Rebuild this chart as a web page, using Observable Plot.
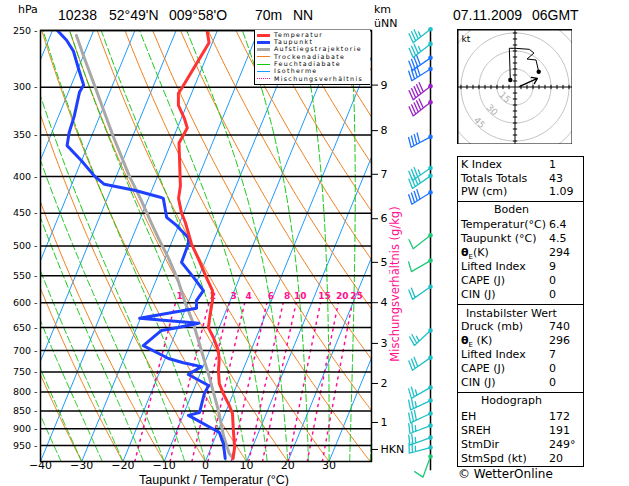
<!DOCTYPE html>
<html><head><meta charset="utf-8">
<script src="https://cdn.jsdelivr.net/npm/d3@7"></script>
<script src="https://cdn.jsdelivr.net/npm/@observablehq/plot@0.6"></script>
<style>
body{margin:0;background:#fff;}
#wrap{position:relative;width:629px;height:486px;overflow:hidden;font-family:"DejaVu Sans",sans-serif;color:#000;}
.abs{position:absolute;white-space:pre;}
.t{font-family:"Liberation Sans",sans-serif;font-size:14px;line-height:16px;}
.row{position:absolute;font-size:11px;line-height:14px;white-space:pre;}
.lg{position:absolute;font-size:6.3px;line-height:6.3px;letter-spacing:1.3px;white-space:pre;}
</style></head><body><div id="wrap"></div>
<script>
// ---------- data ----------
const tempP = [990, 956, 905, 857, 835, 804, 778, 746, 723, 700, 671, 650, 629, 596, 577, 553, 524, 496, 464, 449, 429, 412, 370, 359, 342, 332, 318, 306, 301, 260, 250];
const tempT = [6.4, 5.7, 3.7, 1.8, 0.2, -2.4, -4.4, -5.9, -6.7, -7.9, -10.4, -12.6, -13.3, -14.3, -15.3, -18.1, -21.5, -25.1, -28.6, -30.6, -32.7, -33.5, -37.1, -38.1, -37.6, -39.2, -42.0, -43.2, -42.9, -40.8, -42.5];
const dewP = [990, 944, 911, 862, 854, 804, 783, 756, 737, 728, 718, 689, 656, 650, 641, 631, 611, 596, 577, 553, 527, 496, 487, 468, 456, 429, 427, 418, 410, 399, 380, 362, 347, 329, 305, 298, 282, 267, 258, 250];
const dewT = [4.5, 2.6, 0.5, -8.7, -6.3, -7.0, -6.8, -12.8, -10.4, -15.2, -19.2, -26.6, -23.7, -19.9, -15.4, -30.2, -17.4, -18.2, -17.5, -21.2, -25.6, -25.8, -26.4, -30.5, -33.7, -36.4, -37.5, -44.2, -52.1, -55.4, -60.0, -65.0, -65.8, -66.2, -67.3, -67.0, -70.0, -72.9, -75.6, -78.8];
const parcelP = [990, 975, 920, 849, 763, 700, 641, 596, 559, 519, 487, 464, 432, 399, 351, 298, 271, 254];
const parcelT = [6.4, 5.0, 1.8, -1.9, -7.4, -12.0, -16.7, -21.1, -24.6, -29.3, -33.7, -36.9, -41.5, -46.9, -54.8, -64.4, -70.0, -73.7];

const barbP   = [249, 261, 273, 283, 299, 315, 352, 389, 399, 421, 483, 524, 570, 656, 716, 788, 822, 857, 891, 926, 956, 984];
const barbDir = [232, 232, 235, 238, 232, 232, 242, 235, 235, 238, 232, 240, 235, 227, 235, 240, 245, 245, 249, 250, 255, 200];
const barbSpd = [35, 35, 40, 40, 50, 50, 40, 35, 35, 40, 10, 10, 20, 25, 30, 25, 25, 30, 25, 25, 25, 10];

const hodoU = [-3.9, -4.75, 0, 11.9, 15.8, 10, 17.5, 19.75];
const hodoV = [5.8, 32.25, 32.25, 31.4, 28.3, 23.3, 22.5, 12.75];
const stormDir = 249, stormSpd = 20;
const hodoRings = [15, 30, 45, 60];
const hodoRingLabels = [15, 30, 45];

const isobars = [250, 300, 350, 400, 450, 500, 550, 600, 650, 700, 750, 800, 850, 900, 950];
const xTicks = [-40, -30, -20, -10, 0, 10, 20, 30];
const kmLabels = ["9", "8", "7", "6", "5", "4", "3", "2", "1", "HKN"];
const kmP = [298, 345, 397, 458, 527, 600, 684, 778, 882, 962];
const isoT = d3.range(-120, 41, 10);
const dryT0 = d3.range(-40, 141, 10);
const moistT0 = d3.range(-40, 41, 5);
const mixW = [1, 2, 3, 4, 6, 8, 10, 15, 20, 25];

const tableA = [["K Index", "1"], ["Totals Totals", "43"], ["PW (cm)", "1.09"]];
const tableB = [["Temperatur(°C)", "6.4"], ["Taupunkt (°C)", "4.5"], ["θE(K)", "294"], ["Lifted Index", "9"], ["CAPE (J)", "0"], ["CIN (J)", "0"]];
const tableC = [["Druck (mb)", "740"], ["θE (K)", "296"], ["Lifted Index", "7"], ["CAPE (J)", "0"], ["CIN (J)", "0"]];
const tableD = [["EH", "172"], ["SREH", "191"], ["StmDir", "249°"], ["StmSpd (kt)", "20"]];

const legendItems = [
  ["Temperatur", "#ff3333", 3, null],
  ["Taupunkt", "#2040ff", 3, null],
  ["Aufstiegstrajektorie", "#a8a8a8", 3, null],
  ["Trockenadiabate", "#f08020", 1.5, null],
  ["Feuchtadiabate", "#10c810", 1.5, null],
  ["Isotherme", "#1e9bff", 1.5, null],
  ["Mischungsverhältnis", "#ff1090", 1.5, "dot"]
];

// ---------- thermodynamics for background lines ----------
const K = 30.95; // skew in °C per ln(1000/p)
const skewX = (T, p) => T + K * Math.log(1000 / p);
const P = d3.range(1000, 249, -5);
const isoLines = isoT.flatMap(t => [1000, 250].map(p => ({id: t, x: skewX(t, p), p})));
const dryLines = dryT0.flatMap(t0 => P.map(p => ({id: t0, x: skewX((t0 + 273.15) * Math.pow(p / 1000, 0.2857) - 273.15, p), p})));
function moist(t0) {
  const out = [];
  let T = t0 + 273.15;
  const Rd = 287.04, cp = 1005.7, Lv = 2.501e6, eps = 0.622;
  for (let p = 1000; p >= 249; p -= 2.5) {
    out.push({id: t0, x: skewX(T - 273.15, p), p});
    const es = 6.112 * Math.exp(17.67 * (T - 273.15) / (T - 29.65));
    const rs = eps * es / (p - es);
    const dTdp = (Rd * T + Lv * rs) / (p * (cp + Lv * Lv * rs * eps / (Rd * T * T)));
    T -= dTdp * 2.5;
  }
  return out;
}
const moistLines = moistT0.flatMap(moist);
const tdFromW = (w, p) => { const e = w * p / (622 + w); const a = Math.log(e / 6.112); return 243.5 * a / (17.67 - a); };
const mixLines = mixW.flatMap(w => d3.range(1000, 599, -10).map(p => ({id: w, x: skewX(tdFromW(w, p), p), p})));
const mixLabels = mixW.map(w => ({w, x: skewX(tdFromW(w, 600), 600), p: 588}));

const temp = tempP.map((p, i) => ({p, x: skewX(tempT[i], p)}));
const dew = dewP.map((p, i) => ({p, x: skewX(dewT[i], p)}));
const parcel = parcelP.map((p, i) => ({p, x: skewX(parcelT[i], p)}));
const kmMap = new Map(kmP.map((p, i) => [p, kmLabels[i]]));

const wrap = document.getElementById("wrap");
const place = (el, l, t) => { el.style.position = "absolute"; el.style.left = l + "px"; el.style.top = t + "px"; wrap.appendChild(el); return el; };

// ---------- main skew-T ----------
const main = Plot.plot({
  width: 629, height: 486,
  marginLeft: 40, marginRight: 258, marginTop: 30, marginBottom: 25,
  style: {fontFamily: "DejaVu Sans", fontSize: "10px", background: "transparent", overflow: "visible"},
  x: {domain: [-40, 40.3], axis: null},
  y: {type: "log", domain: [1000, 250], axis: null},
  marks: [
    Plot.line(isoLines, {x: "x", y: "p", z: "id", stroke: "#1e9bff", strokeWidth: 1, clip: true}),
    Plot.line(dryLines, {x: "x", y: "p", z: "id", stroke: "#f08020", strokeWidth: 1, clip: true}),
    Plot.line(moistLines, {x: "x", y: "p", z: "id", stroke: "#10c810", strokeWidth: 1, strokeDasharray: "7,3", clip: true}),
    Plot.line(mixLines, {x: "x", y: "p", z: "id", stroke: "#ff1090", strokeWidth: 1.5, strokeDasharray: "2,5", clip: true}),
    Plot.text(mixLabels, {x: "x", y: "p", text: d => String(d.w), fill: "#ff1090", fontSize: 9, fontWeight: "bold", textAnchor: "middle", dx: 4}),
    Plot.ruleY(isobars, {stroke: "black", strokeWidth: 1.5}),
    Plot.line(parcel, {x: "x", y: "p", stroke: "#a8a8a8", strokeWidth: 3, clip: true}),
    Plot.line(dew, {x: "x", y: "p", stroke: "#2040ff", strokeWidth: 3, strokeLinejoin: "round", clip: true}),
    Plot.line(temp, {x: "x", y: "p", stroke: "#ff3333", strokeWidth: 3, strokeLinejoin: "round", clip: true}),
    Plot.frame({stroke: "black", strokeWidth: 1.5}),
    Plot.axisX(xTicks, {anchor: "bottom", tickSize: 0, tickPadding: 0, fontSize: 11, tickFormat: d => (d < 0 ? "−" : "") + Math.abs(d), label: null}),
    Plot.axisY(isobars, {anchor: "left", tickSize: 0, tickPadding: 3, fontSize: 9.5, tickFormat: d => d + " -", label: null}),
    Plot.axisY(kmP, {anchor: "right", tickSize: 6, tickPadding: 3, fontSize: 11, tickFormat: d => kmMap.get(d), label: null}),
    Plot.text(["Taupunkt / Temperatur (°C)"], {frameAnchor: "bottom", lineAnchor: "bottom", dx: 8, dy: 22.5, fontSize: 12.5, fontFamily: "Liberation Sans"}),
    Plot.text(["Mischungsverhältnis (g/kg)"], {frameAnchor: "right", textAnchor: "middle", dx: 24, dy: 38, rotate: -90, fontSize: 11.5, fill: "#ff1090"})
  ]
});
place(main, 0, 0);

// ---------- wind barbs ----------
const barbs = barbP.map((p, i) => ({x: 1, p, dir: barbDir[i], spd: barbSpd[i]}));
const barbShape = {
  draw(context, l) {
    const L = 22, F = 10, gap = 3.2, fx = 0.97, fy = 0.24;
    context.moveTo(0, 0); context.lineTo(0, -L);
    let s = Math.round(l / 5) * 5, pos = -L;
    while (s >= 10) { context.moveTo(0, pos); context.lineTo(F * fx, pos + F * fy); pos += gap; s -= 10; }
    if (s >= 5) { if (pos === -L) pos += gap; context.moveTo(0, pos); context.lineTo(F * fx * 0.55, pos + F * fy * 0.55); }
  }
};
const barbPlot = Plot.plot({
  width: 70, height: 486, marginLeft: 0, marginRight: 20, marginTop: 30, marginBottom: 25,
  style: {background: "transparent", overflow: "visible"},
  x: {domain: [0, 1], axis: null},
  y: {type: "log", domain: [1000, 250], axis: null},
  length: {type: "linear", domain: [0, 100], range: [0, 100]},
  color: {type: "threshold", domain: [14, 38, 45], range: ["#20c878", "#20c0c8", "#1e74ff", "#9a20c8"]},
  marks: [
    Plot.ruleX([1], {y1: 250, y2: 1030, stroke: "black", strokeWidth: 1.5}),
    Plot.vector(barbs, {x: "x", y: "p", rotate: "dir", length: "spd", stroke: "spd", strokeWidth: 1.3, anchor: "start", shape: barbShape}),
    Plot.dot(barbs, {x: "x", y: "p", fill: "spd", r: 2.3})
  ]
});
place(barbPlot, 380, 0);

// ---------- hodograph ----------
const rad = Math.PI / 180;
const ringPts = hodoRings.flatMap(r => d3.range(0, 361, 5).map(a => ({id: r, u: r * Math.cos(a * rad), v: r * Math.sin(a * rad)})));
const hodo = hodoU.map((u, i) => ({u, v: hodoV[i]}));
const su = -stormSpd * Math.sin(stormDir * rad), sv = -stormSpd * Math.cos(stormDir * rad);
const tickV = d3.range(-45, 46, 5).filter(d => d !== 0);
const hodoPlot = Plot.plot({
  width: 115, height: 115, margin: 0,
  style: {background: "white", overflow: "hidden", fontFamily: "DejaVu Sans"},
  x: {domain: [-47.9, 47.9], axis: null},
  y: {domain: [-47.9, 47.9], axis: null},
  marks: [
    Plot.line(ringPts, {x: "u", y: "v", z: "id", stroke: "#c4c4c4", strokeWidth: 1}),
    Plot.text(hodoRingLabels, {x: r => -(r - 3) * Math.SQRT1_2, y: r => -(r - 3) * Math.SQRT1_2, text: d => String(d), rotate: 45, fill: "#b0b0b0", fontSize: 9}),
    Plot.ruleY([0], {stroke: "black"}),
    Plot.ruleX([0], {stroke: "black"}),
    Plot.link(tickV, {x1: d => d, x2: d => d, y1: -1.8, y2: 1.8, stroke: "black"}),
    Plot.link(tickV, {y1: d => d, y2: d => d, x1: -1.8, x2: 1.8, stroke: "black"}),
    Plot.arrow([0], {x1: 4, y1: 0.5, x2: su, y2: sv, stroke: "black", strokeWidth: 1.3, headLength: 7, headAngle: 70}),
    Plot.line(hodo, {x: "u", y: "v", stroke: "black", strokeWidth: 1}),
    Plot.dot([hodo[0], hodo[hodo.length - 1]], {x: "u", y: "v", fill: "black", r: 2.2}),
    Plot.text(["kt"], {frameAnchor: "top-left", dx: 4, dy: 6, fontSize: 9}),
    Plot.frame({stroke: "black", strokeWidth: 2})
  ]
});
place(hodoPlot, 457, 29);

// ---------- text header ----------
const txt = (s, l, t, cls, extra) => { const d = document.createElement("div"); d.className = "abs " + (cls || ""); d.textContent = s; if (extra) Object.assign(d.style, extra); return place(d, l, t); };
txt("hPa", 18, 3, "", {fontSize: "11px"});
txt("10238", 58, 7, "t");
txt("52°49'N", 109, 7, "t");
txt("009°58'O", 169, 7, "t");
txt("70m", 255, 7, "t");
txt("NN", 293, 7, "t");
txt("07.11.2009", 453, 7, "t");
txt("06GMT", 532, 7, "t");
txt("km", 374, 3, "", {fontSize: "11px"});
txt("üNN", 374, 17, "", {fontSize: "11px"});
txt("© WetterOnline", 458, 467, "", {fontSize: "12px"});

// ---------- legend ----------
const lg = document.createElement("div");
Object.assign(lg.style, {width: "116px", height: "55px", background: "white", borderLeft: "1.5px solid black", borderBottom: "1.5px solid black", boxSizing: "border-box"});
place(lg, 253.5, 30);
legendItems.forEach(([name, color, w, dash], i) => {
  const y = 35 + i * 7.35;
  const sw = document.createElement("div");
  Object.assign(sw.style, {width: "13px", height: "0px", borderTop: `${w}px ${dash ? "dotted" : "solid"} ${color}`});
  place(sw, 257, y - w / 2);
  const t = document.createElement("div"); t.className = "lg"; t.textContent = name;
  place(t, 274, y - 3.3);
});

// ---------- table ----------
const box = document.createElement("div");
Object.assign(box.style, {width: "127px", height: "311px", border: "1.5px solid black", boxSizing: "border-box", background: "white"});
place(box, 456.5, 155.5);
[201, 304, 392].forEach(y => { const s = document.createElement("div"); Object.assign(s.style, {width: "127px", height: "0", borderTop: "1.5px solid black"}); place(s, 456.5, y); });
const row = (label, value, y) => {
  const a = document.createElement("div"); a.className = "row"; a.innerHTML = label.replace(/θE/, "<b>θ</b><sub style='font-size:7px'>E</sub>"); place(a, 461, y - 7);
  const b = document.createElement("div"); b.className = "row"; b.textContent = value; place(b, 549, y - 7);
};
const head = (s, y) => { const d = document.createElement("div"); d.className = "row"; d.textContent = s; d.style.width = "127px"; d.style.textAlign = "center"; d.style.marginLeft = "-8px"; place(d, 456, y - 7); };
tableA.forEach(([l, v], i) => row(l, v, 165 + i * 13.6));
head("Boden", 210);
tableB.forEach(([l, v], i) => row(l, v, 225 + i * 14));
head("Instabilster Wert", 314);
tableC.forEach(([l, v], i) => row(l, v, 327 + i * 14));
head("Hodograph", 401);
tableD.forEach(([l, v], i) => row(l, v, 417 + i * 14));
</script></body></html>
